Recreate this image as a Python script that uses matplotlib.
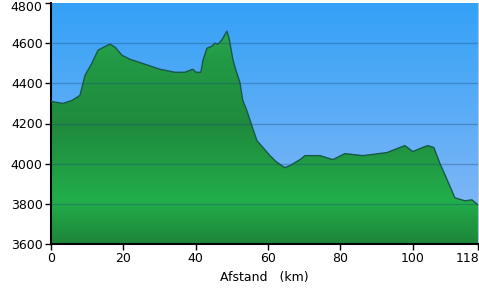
import numpy as np
import matplotlib
matplotlib.use("Agg")
import matplotlib.pyplot as plt
from matplotlib.colors import LinearSegmentedColormap
from matplotlib.patches import Polygon
from matplotlib.transforms import ScaledTranslation

distance_km = [0, 3.3, 5.8, 8.0, 9.4, 11.3, 13.0, 14.6, 16.3, 17.7, 19.6, 21.8, 26.0,
               30.1, 34.3, 37.0, 39.2, 40.1, 41.4, 42.0, 43.1, 44.5, 45.3, 46.1, 47.2,
               48.6, 49.2, 50.3, 51.1, 52.2, 53.0, 54.1, 55.5, 56.9, 58.6, 60.5, 62.2,
               64.6, 66.0, 68.8, 70.2, 74.3, 77.9, 81.2, 86.2, 92.8, 97.8, 100.0,
               101.9, 104.1, 105.8, 107.5, 109.7, 111.6, 114.4, 116.3, 118]
elevation_m = [4310, 4300, 4315, 4340, 4440, 4500, 4565, 4580, 4595, 4580, 4540, 4520,
               4495, 4470, 4455, 4455, 4470, 4455, 4455, 4515, 4575, 4585, 4600, 4595,
               4615, 4660, 4625, 4515, 4465, 4405, 4315, 4265, 4190, 4115, 4080, 4040,
               4010, 3980, 3990, 4020, 4040, 4040, 4020, 4050, 4040, 4055, 4090, 4060,
               4075, 4090, 4080, 4000, 3910, 3830, 3815, 3820, 3795]
x_ticks = [0, 20, 40, 60, 80, 100, 118]
y_ticks = [3600, 3800, 4000, 4200, 4400, 4600, 4800]
x_label = "Afstand   (km)"

fig = plt.figure(figsize=(4.79, 2.88), dpi=100)
ax = fig.add_axes([51/479, 44/288, 427/479, 241/288])
xmin, xmax, ymin, ymax = 0, 118, 3600, 4800
ax.set_xlim(xmin, xmax)
ax.set_ylim(ymin, ymax)

# blue sky gradient background
sky = LinearSegmentedColormap.from_list("sky", ["#8bbaf6", "#34a1f7"])
grad = np.linspace(0, 1, 256).reshape(-1, 1)
ax.imshow(grad, cmap=sky, extent=[xmin, xmax, ymin, ymax], origin="lower",
          aspect="auto", zorder=0)

# green fill gradient clipped to profile
greens = LinearSegmentedColormap.from_list(
    "gr", [(0.0, "#1d8539"), (0.2, "#22ae4b"), (0.55, "#1f8a3d"), (0.85, "#229a45"), (1.0, "#2da84f")])
img = ax.imshow(grad, cmap=greens, extent=[xmin, xmax, ymin, 4680], origin="lower",
                aspect="auto", zorder=1)
verts = list(zip(distance_km, elevation_m)) + [(distance_km[-1], ymin), (distance_km[0], ymin)]
poly = Polygon(verts, closed=True, facecolor="none", edgecolor="none", transform=ax.transData)
ax.add_patch(poly)
img.set_clip_path(poly)
ax.plot(distance_km, elevation_m, color="#16594a", lw=1.0, zorder=3)

for yv in y_ticks[1:-1]:
    ax.axhline(yv, color="#1c4a7a", alpha=0.35, lw=1.0, zorder=2)

ax.set_xticks(x_ticks)
ax.set_yticks(y_ticks)
ax.tick_params(direction="out", length=4, width=1, labelsize=9, colors="black", pad=2)
ax.spines["top"].set_visible(False)
ax.spines["right"].set_color("#a8c8d8")
ax.spines["left"].set_linewidth(1.5)
ax.spines["bottom"].set_linewidth(1.5)
ax.set_xlabel(x_label, fontsize=9, labelpad=4)
ax.set_axisbelow(False)

fig.canvas.draw()
xlabels = ax.get_xticklabels()
xlabels[-1].set_horizontalalignment("right")
xlabels[-1].set_transform(xlabels[-1].get_transform() + ScaledTranslation(1/100, 0, fig.dpi_scale_trans))
ylabels = ax.get_yticklabels()
ylabels[-1].set_transform(ylabels[-1].get_transform() + ScaledTranslation(0, -3/100, fig.dpi_scale_trans))

fig.savefig("out.png", dpi=100)
